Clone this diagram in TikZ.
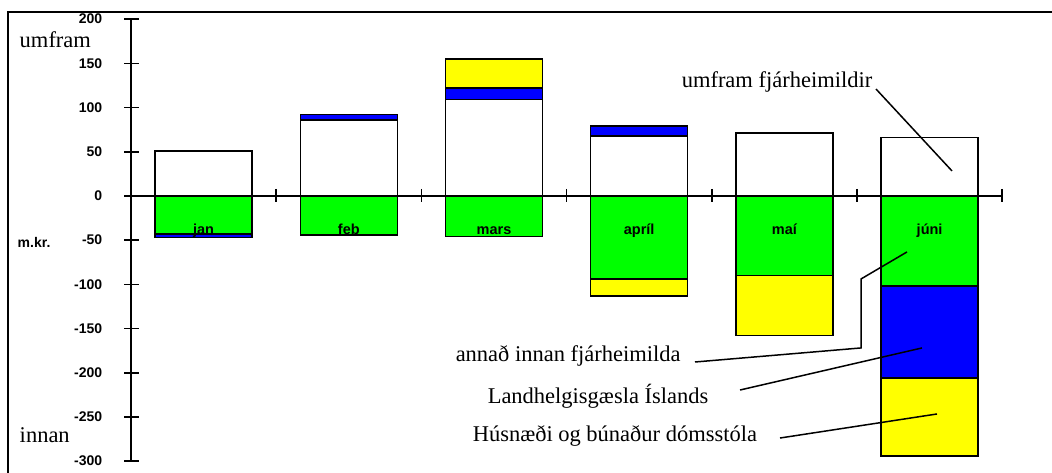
\documentclass[tikz,border=0pt]{standalone}
\usepackage{fontspec}
\setmainfont{Liberation Serif}
\setsansfont{Liberation Sans}
\definecolor{grn}{RGB}{0,255,0}
\definecolor{blu}{RGB}{0,0,255}
\definecolor{ylw}{RGB}{255,255,0}
\tikzset{
  ticklbl/.style={font=\fontsize{14}{16}\selectfont\sffamily\bfseries, anchor=east, inner sep=0pt},
  monthlbl/.style={font=\fontsize{14.5}{16}\selectfont\sffamily\bfseries, anchor=base, inner sep=0pt},
  note/.style={font=\fontsize{22.5}{26}\selectfont, anchor=base west, inner sep=0pt},
  bar/.style={draw=black, line width=1.5pt}
}
\begin{document}
\begin{tikzpicture}[x=1pt, y=0.884pt, line width=1.5pt]
        \useasboundingbox (-131, 221.7) rectangle (921, -313.3);
        % frame
        \draw[line width=2pt] (-123, -313.3) -- (-123, 208.1) -- (921, 208.1);

        % axes
        \draw (0, 200) -- (0, -300);
        \draw (-7, 0) -- (871.2, 0);
        \draw (-7, 200) -- (8, 200);
        \draw (-7, 150) -- (8, 150);
        \draw (-7, 100) -- (8, 100);
        \draw (-7, 50) -- (8, 50);
        \draw (-7, 0) -- (8, 0);
        \draw (-7, -50) -- (8, -50);
        \draw (-7, -100) -- (8, -100);
        \draw (-7, -150) -- (8, -150);
        \draw (-7, -200) -- (8, -200);
        \draw (-7, -250) -- (8, -250);
        \draw (-7, -300) -- (8, -300);
        \draw (145.2, 8) -- (145.2, -7);
        \draw (290.4, 8) -- (290.4, -7);
        \draw (435.6, 8) -- (435.6, -7);
        \draw (580.8, 8) -- (580.8, -7);
        \draw (726.0, 8) -- (726.0, -7);
        \draw (871.2, 8) -- (871.2, -7);

        \node[ticklbl] (y200) at (-28, 200) {200};
        \node[ticklbl] (y150) at (-28, 150) {150};
        \node[ticklbl] (y100) at (-28, 100) {100};
        \node[ticklbl] (y50) at (-28, 50) {50};
        \node[ticklbl] (y0) at (-28, 0) {0};
        \node[ticklbl] (ym50) at (-28, -50) {-50};
        \node[ticklbl] (ym100) at (-28, -100) {-100};
        \node[ticklbl] (ym150) at (-28, -150) {-150};
        \node[ticklbl] (ym200) at (-28, -200) {-200};
        \node[ticklbl] (ym250) at (-28, -250) {-250};
        \node[ticklbl] (ym300) at (-28, -300) {-300};
        \node[ticklbl, anchor=west] (mkr) at (-114, -52) {m.kr.};
        \node[note] (umfram) at (-112, 167.4) {umfram};
        \node[note] (innan) at (-112, -279.4) {innan};

        % jan
        \draw[bar, fill=white] (24.1, 0) rectangle (121.1, 51);
        \draw[bar, fill=grn] (24.1, 0) rectangle (121.1, -43);
        \draw[bar, fill=blu] (24.1, -43) rectangle (121.1, -47);
        % feb
        \draw[bar, fill=white] (169.3, 0) rectangle (266.3, 86);
        \draw[bar, fill=blu] (169.3, 86) rectangle (266.3, 92);
        \draw[bar, fill=grn] (169.3, 0) rectangle (266.3, -44);
        % mars
        \draw[bar, fill=white] (314.5, 0) rectangle (411.5, 109);
        \draw[bar, fill=blu] (314.5, 109) rectangle (411.5, 122);
        \draw[bar, fill=ylw] (314.5, 122) rectangle (411.5, 155);
        \draw[bar, fill=grn] (314.5, 0) rectangle (411.5, -46);
        % april
        \draw[bar, fill=white] (459.7, 0) rectangle (556.7, 68);
        \draw[bar, fill=blu] (459.7, 68) rectangle (556.7, 79);
        \draw[bar, fill=grn] (459.7, 0) rectangle (556.7, -94);
        \draw[bar, fill=ylw] (459.7, -94) rectangle (556.7, -113);
        % mai
        \draw[bar, fill=white] (604.9, 0) rectangle (701.9, 71);
        \draw[bar, fill=grn] (604.9, 0) rectangle (701.9, -90);
        \draw[bar, fill=ylw] (604.9, -90) rectangle (701.9, -158);
        % juni
        \draw[bar, fill=white] (750.1, 0) rectangle (847.1, 66);
        \draw[bar, fill=grn] (750.1, 0) rectangle (847.1, -102);
        \draw[bar, fill=blu] (750.1, -102) rectangle (847.1, -206);
        \draw[bar, fill=ylw] (750.1, -206) rectangle (847.1, -294);

        \node[monthlbl] (jan) at (72.6, -43.5) {jan};
        \node[monthlbl] (feb) at (217.8, -43.5) {feb};
        \node[monthlbl] (mars) at (363, -43.5) {mars};
        \node[monthlbl] (april) at (508.2, -43.5) {apríl};
        \node[monthlbl] (mai) at (653.4, -43.5) {maí};
        \node[monthlbl] (juni) at (798.6, -43.5) {júni};

        % legend notes
        \node[note] (yfir) at (550, 122.2) {umfram fjárheimildir};
        \node[note] (annad) at (324, -187.8) {annað innan fjárheimilda};
        \node[note] (lhg) at (356, -234.2) {Landhelgisgæsla Íslands};
        \node[note] (hus) at (341, -278.3) {Húsnæði og búnaður dómsstóla};

        \coordinate (yfir-a) at (745, 121);
        \coordinate (yfir-b) at (821, 28.3);
        \coordinate (annad-a) at (564, -187.8);
        \coordinate (annad-b) at (730, -171.9);
        \coordinate (annad-c) at (730, -93.9);
        \coordinate (annad-d) at (776, -63.3);
        \coordinate (lhg-a) at (609, -219.5);
        \coordinate (lhg-b) at (791, -171.9);
        \coordinate (hus-a) at (649, -273.8);
        \coordinate (hus-b) at (806, -246.6);

        \draw (yfir-a) -- (yfir-b);
        \draw (annad-a) -- (annad-b) -- (annad-c) -- (annad-d);
        \draw (lhg-a) -- (lhg-b);
        \draw (hus-a) -- (hus-b);
    \end{tikzpicture}
\end{document}
